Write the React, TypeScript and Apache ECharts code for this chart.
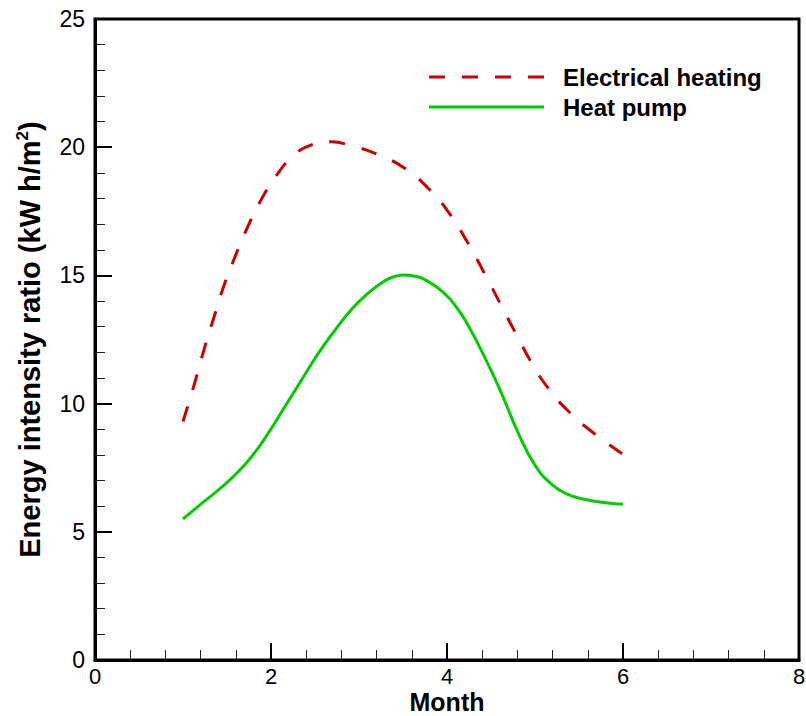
import React, { useEffect, useRef } from "react";
import * as echarts from "echarts";

// Values (month, kW h/m²)
const elecMonth = [1.0, 1.12, 1.23, 1.35, 1.46, 1.6, 1.73, 1.88, 2.07, 2.22, 2.41, 2.68, 2.91, 3.21, 3.51, 3.78, 4.01, 4.24, 4.43, 4.62, 4.81, 4.96, 5.15, 5.38, 5.64, 6.0];
const elecValue = [9.3, 10.65, 12.0, 13.35, 14.55, 15.8, 16.85, 17.9, 18.94, 19.55, 20.02, 20.21, 20.06, 19.72, 19.2, 18.42, 17.5, 16.25, 15.05, 13.8, 12.55, 11.6, 10.6, 9.7, 8.92, 8.02];

const pumpMonth = [1.0, 1.2, 1.39, 1.58, 1.77, 1.96, 2.15, 2.34, 2.53, 2.72, 2.91, 3.1, 3.29, 3.4, 3.51, 3.62, 3.74, 3.97, 4.12, 4.24, 4.35, 4.5, 4.62, 4.81, 5.0, 5.19, 5.38, 5.56, 5.8, 6.0];
const pumpValue = [5.5, 6.07, 6.6, 7.18, 7.89, 8.8, 9.84, 10.88, 11.92, 12.83, 13.65, 14.3, 14.78, 14.95, 15.02, 14.98, 14.85, 14.3, 13.7, 13.05, 12.35, 11.3, 10.4, 8.85, 7.6, 6.85, 6.45, 6.27, 6.13, 6.07];

const seriesNames = ["Electrical heating", "Heat pump"];
const xTitle = "Month";
const yTitle = "Energy intensity ratio (kW h/m{sup|2})";

const FONT = "'Liberation Sans', Arial, Helvetica, sans-serif";

export default function App() {
  const ref = useRef<HTMLDivElement | null>(null);

  useEffect(() => {
    if (!ref.current) return;
    const chart = echarts.init(ref.current, null, { renderer: "svg" });

    const elecData = elecMonth.map((m, i) => [m, elecValue[i]]);
    const pumpData = pumpMonth.map((m, i) => [m, pumpValue[i]]);

    const legendX1 = 429;
    const legendX2 = 544;

    chart.setOption({
      animation: false,
      backgroundColor: "#ffffff",
      grid: {
        left: 95,
        top: 19,
        right: 7,
        bottom: 56,
        show: true,
        borderColor: "#000",
        borderWidth: 3,
        backgroundColor: "transparent",
        outerBoundsMode: "none",
      },
      xAxis: {
        type: "value",
        min: 0,
        max: 8,
        interval: 2,
        name: xTitle,
        nameLocation: "middle",
        nameGap: 29,
        nameMoveOverlap: false,
        nameTextStyle: { fontFamily: FONT, fontSize: 25, lineHeight: 25, fontWeight: "bold", color: "#000" },
        axisLine: { show: true, onZero: false, lineStyle: { color: "#000", width: 3 } },
        axisTick: { show: true, inside: true, length: 17, lineStyle: { color: "#000", width: 2 } },
        minorTick: { show: true, splitNumber: 5, length: 10, lineStyle: { color: "#222", width: 1 } },
        splitLine: { show: false },
        minorSplitLine: { show: false },
        axisLabel: { fontFamily: FONT, fontSize: 22, lineHeight: 22, color: "#000", margin: 5, showMinLabel: true, showMaxLabel: true },
      },
      yAxis: {
        type: "value",
        min: 0,
        max: 25,
        interval: 5,
        name: yTitle,
        nameLocation: "middle",
        nameGap: 50,
        nameMoveOverlap: false,
        nameTextStyle: {
          fontFamily: FONT,
          fontSize: 29,
          fontWeight: "bold",
          color: "#000",
          rich: {
            sup: { fontFamily: FONT, fontSize: 17, fontWeight: "bold", color: "#000", verticalAlign: "top", padding: [0, 0, 14, 0] },
          },
        },
        axisLine: { show: true, onZero: false, lineStyle: { color: "#000", width: 3 } },
        axisTick: { show: true, inside: true, length: 17, lineStyle: { color: "#000", width: 2 } },
        minorTick: { show: true, splitNumber: 5, length: 10, lineStyle: { color: "#222", width: 1 } },
        splitLine: { show: false },
        minorSplitLine: { show: false },
        axisLabel: { fontFamily: FONT, fontSize: 23, color: "#000", margin: 10, showMinLabel: true, showMaxLabel: true },
      },
      series: [
        {
          name: seriesNames[0],
          type: "line",
          data: elecData,
          smooth: 0.5,
          showSymbol: false,
          symbol: "none",
          lineStyle: { color: "#cc0000", width: 3, type: [16, 17] },
        },
        {
          name: seriesNames[1],
          type: "line",
          data: pumpData,
          smooth: 0.5,
          showSymbol: false,
          symbol: "none",
          lineStyle: { color: "#00cc00", width: 3, type: "solid" },
        },
      ],
      graphic: [
        {
          type: "line",
          shape: { x1: legendX1, y1: 77, x2: legendX2, y2: 77 },
          style: { stroke: "#cc0000", lineWidth: 3, lineDash: [16, 17] },
        },
        {
          type: "text",
          x: 563,
          y: 77,
          style: { text: seriesNames[0], fontFamily: FONT, fontSize: 24, fontWeight: "bold", fill: "#000", align: "left", verticalAlign: "middle" },
        },
        {
          type: "line",
          shape: { x1: legendX1, y1: 107, x2: legendX2, y2: 107 },
          style: { stroke: "#00cc00", lineWidth: 3 },
        },
        {
          type: "text",
          x: 563,
          y: 107,
          style: { text: seriesNames[1], fontFamily: FONT, fontSize: 24, fontWeight: "bold", fill: "#000", align: "left", verticalAlign: "middle" },
        },
      ],
    });

    return () => {
      chart.dispose();
    };
  }, []);

  return (
    <div
      ref={ref}
      style={{ position: "absolute", left: 0, top: 0, width: 806, height: 716, background: "#fff" }}
    />
  );
}
